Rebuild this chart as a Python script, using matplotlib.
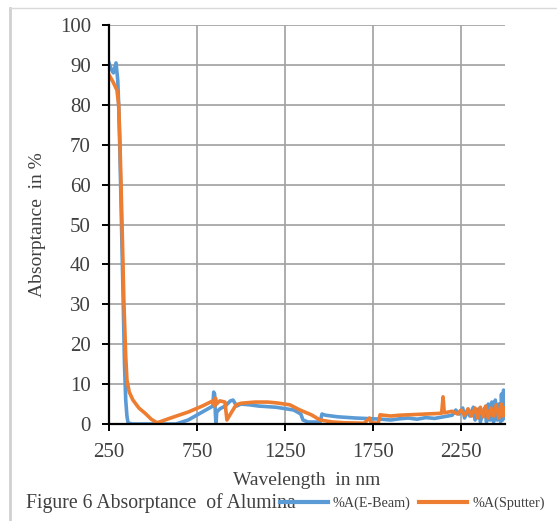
import matplotlib.pyplot as plt
from matplotlib.lines import Line2D

plt.rcParams['font.family'] = ['Liberation Serif', 'DejaVu Serif']

# %A(E-Beam)
ebeam_nm = [250, 262, 275, 290, 300, 305, 312, 320, 330, 338, 345, 352, 358, 380,
            630, 700, 760, 820, 840, 845, 850, 855, 858, 862, 880, 910, 940,
            955, 975, 1000, 1050, 1100, 1200, 1300, 1340, 1352, 1380, 1450,
            1460, 1480, 1550, 1650, 1750, 1800, 1850, 1900, 1950, 2000, 2050,
            2100, 2150, 2200, 2220, 2240, 2260, 2270, 2290, 2300, 2320, 2330,
            2350, 2360, 2375, 2385, 2395, 2405, 2415, 2425, 2435, 2445, 2455,
            2465, 2475, 2480, 2487, 2492, 2496, 2500]
ebeam_a = [90.5, 89, 88, 90.5, 86, 80, 68, 52, 32, 15, 6, 2, 0.3, 0,
           0, 1.0, 2.5, 4, 4.5, 8, 7.5, 2, 0, 3, 3.8, 4.5, 5.8,
           6, 4.5, 5, 4.8, 4.5, 4.2, 3.5, 2.5, 1, 0.5, 0.5,
           2.5, 2.2, 1.8, 1.5, 1.3, 1.2, 1.0, 1.3, 1.5, 1.2, 1.6,
           1.4, 1.8, 2.2, 3.5, 2.5, 4, 1.5, 3.5, 2, 4.2, 1,
           3.8, 0.5, 3, 4, 0.5, 5, 1, 5.5, 0.5, 6, 1,
           5, 0.5, 7.5, 1, 8.5, 2, 6]

# %A(Sputter)
sput_nm = [250, 270, 295, 305, 312, 324, 335, 345, 352, 365, 386, 420, 455,
           490, 523, 600, 700, 780, 840, 850, 855, 860, 880, 909, 920, 940,
           972, 1000, 1080, 1150, 1200, 1278, 1335, 1400, 1449, 1520, 1590,
           1700, 1730, 1740, 1780, 1790, 1850, 1900, 1950, 2000, 2050, 2100,
           2140, 2148, 2155, 2200, 2230, 2250, 2270, 2290, 2310, 2330, 2345,
           2360, 2375, 2390, 2405, 2420, 2435, 2450, 2465, 2480, 2490, 2500]
sput_a = [87.5, 86, 83.7, 80, 71, 50, 30, 17, 11, 8, 6, 4, 2.7,
          1.2, 0.3, 1.5, 3, 4.5, 5.8, 4.5, 6.5, 5, 5.8, 5.5, 1, 2.5,
          4.8, 5.2, 5.5, 5.5, 5.3, 4.8, 3.5, 2.3, 1, 0.5, 0.3,
          0.2, 1.5, 0.3, 0.2, 2.3, 2.0, 2.2, 2.3, 2.4, 2.5, 2.6,
          2.7, 6.8, 2.8, 3.2, 2.5, 3.5, 2.2, 3.8, 2.0, 4.0, 1.5,
          4.2, 1.8, 4.5, 1.5, 4.0, 2.0, 4.8, 1.5, 5, 2, 4]

xticks = [250, 750, 1250, 1750, 2250]
yticks = list(range(0, 101, 10))

blue = '#5B9BD5'
orange = '#ED7D31'

fig = plt.figure(figsize=(5.57, 5.21), dpi=100)
ax = fig.add_axes([109/557, 1-424/521, (505-109)/557, (424-25)/521])

ax.plot(ebeam_nm, ebeam_a, color=blue, lw=2.6, solid_joinstyle='round')
ax.plot(sput_nm, sput_a, color=orange, lw=2.6, solid_joinstyle='round')

ax.set_xlim(250, 2500)
ax.set_ylim(0, 100)
ax.set_xticks(xticks)
ax.set_yticks(yticks)
ax.grid(True, color='#a0a0a0', lw=1.2)
ax.set_axisbelow(True)
for s in ['top', 'right']:
    ax.spines[s].set_visible(False)
for s in ['left', 'bottom']:
    ax.spines[s].set_linewidth(1.6)
    ax.spines[s].set_color('black')
ax.tick_params(labelsize=15, labelcolor='#404040', color='black', length=5,
               width=1.4, direction='out')
ax.tick_params(axis='x', pad=9)
ax.tick_params(axis='y', pad=8)

ax.set_xlabel('Wavelength  in nm', fontsize=14, color='#404040', labelpad=7)
ax.set_ylabel('Absorptance  in %', fontsize=14, color='#404040', labelpad=10)

# page frame lines
fig.add_artist(Line2D([10/557, 10/557], [0, 1-8/521], color='#d0d0d0', lw=2))
fig.add_artist(Line2D([10/557, 1], [1-8/521, 1-8/521], color='#d9d9d9', lw=1))

fig.text(26/557, 1-503/521, 'Figure 6 Absorptance  of Alumina', fontsize=14.2,
         color='#404040', va='center', ha='left')

handles = [Line2D([], [], color=blue, lw=3), Line2D([], [], color=orange, lw=3)]
fig.legend(handles, ['%A(E-Beam)', '%A(Sputter)'], loc='center left',
           bbox_to_anchor=(280/557, 1-503/521), ncol=2, frameon=False,
           fontsize=10.2, handlelength=3.4, handletextpad=0.33,
           columnspacing=0.6, borderpad=0, borderaxespad=0,
           labelcolor='#404040')

fig.savefig('out.png', dpi=100)
